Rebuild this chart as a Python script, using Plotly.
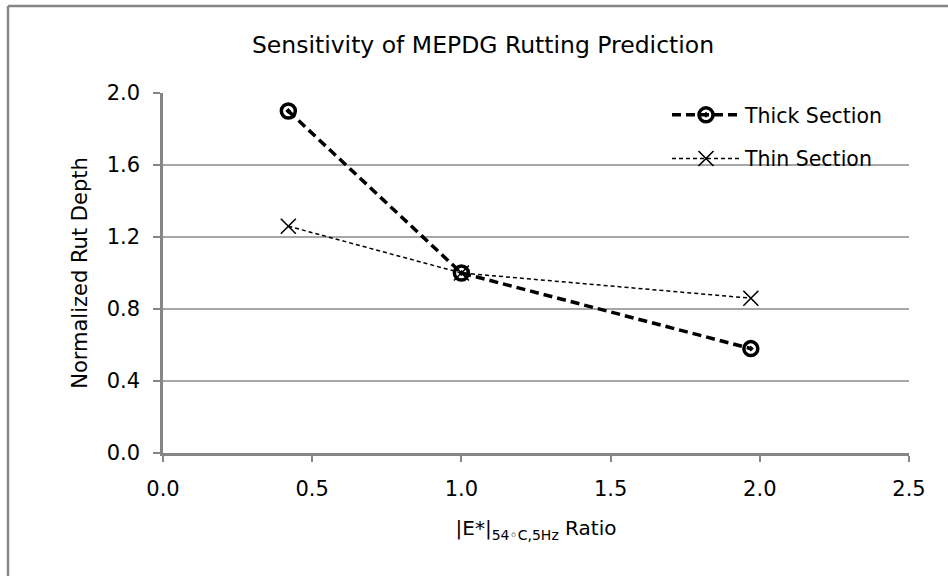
import plotly.graph_objects as go

ratio = [0.42, 1.0, 1.97]
thick = [1.90, 1.0, 0.58]
thin = [1.26, 1.0, 0.86]
x_ticks = [0.0, 0.5, 1.0, 1.5, 2.0, 2.5]
y_ticks = [0.0, 0.4, 0.8, 1.2, 1.6, 2.0]

W, H = 948, 576
L, R, T, B = 163, 39, 93, 123
pw, ph = W - L - R, H - T - B

def px(x):
    return (x - L) / pw

def py(y):
    return (H - B - y) / ph

FONT = "DejaVu Sans"

fig = go.Figure()
fig.add_trace(go.Scatter(
    x=ratio, y=thick, name="Thick Section", mode="lines+markers",
    legendgroup="a",
    line=dict(color="black", width=3.5, dash="9px,5px"),
    marker=dict(symbol="circle-open-dot", size=14, color="black",
                line=dict(color="black", width=3.5)),
))
fig.add_trace(go.Scatter(
    x=ratio, y=thin, name="Thin Section", mode="lines+markers",
    legendgroup="b",
    line=dict(color="black", width=1.5, dash="4px,3px"),
    marker=dict(symbol="x-thin-open", size=15, color="black",
                line=dict(color="black", width=1.6)),
))

fig.update_layout(
    width=W, height=H,
    margin=dict(l=L, r=R, t=T, b=B),
    paper_bgcolor="white", plot_bgcolor="white",
    font=dict(family=FONT, size=21, color="black"),
    title=dict(text="Sensitivity of MEPDG Rutting Prediction",
               x=483 / W, xanchor="center", y=1 - 45 / H, yanchor="middle",
               font=dict(family=FONT, size=23.5, color="black")),
    showlegend=True,
    legend=dict(x=px(667), y=py(95), xanchor="left", yanchor="top",
                bgcolor="rgba(0,0,0,0)", itemwidth=68,
                traceorder="grouped", tracegroupgap=14,
                font=dict(family=FONT, size=20.5, color="black")),
    xaxis=dict(range=[0, 2.5], tickvals=x_ticks, tickformat=".1f",
               showgrid=False, zeroline=False,
               showline=True, linecolor="#868686", linewidth=2.5,
               ticks="outside", ticklen=6, tickcolor="#868686", tickwidth=1.5,
               ticklabelstandoff=9,
               tickfont=dict(family=FONT, size=21, color="black"),
               title=dict(text="|E*|<sub>54◦C,5Hz</sub> Ratio", standoff=22,
                          font=dict(family=FONT, size=20, color="black"))),
    yaxis=dict(range=[0, 2.0], tickvals=y_ticks, tickformat=".1f",
               showgrid=True, gridcolor="#a6a6a6", gridwidth=2,
               zeroline=False,
               showline=True, linecolor="#868686", linewidth=2.5,
               ticks="outside", ticklen=7, tickcolor="#868686", tickwidth=1.5,
               ticklabelstandoff=9,
               tickfont=dict(family=FONT, size=21, color="black"),
               title=dict(text="Normalized Rut Depth", standoff=14,
                          font=dict(family=FONT, size=21, color="black"))),
    shapes=[
        dict(type="line", xref="paper", yref="paper",
             x0=px(8), x1=px(948), y0=py(6), y1=py(6),
             line=dict(color="#868686", width=2.5)),
        dict(type="line", xref="paper", yref="paper",
             x0=px(8), x1=px(8), y0=py(6), y1=py(576),
             line=dict(color="#868686", width=2.5)),
    ],
)

fig.write_html("out.html")
